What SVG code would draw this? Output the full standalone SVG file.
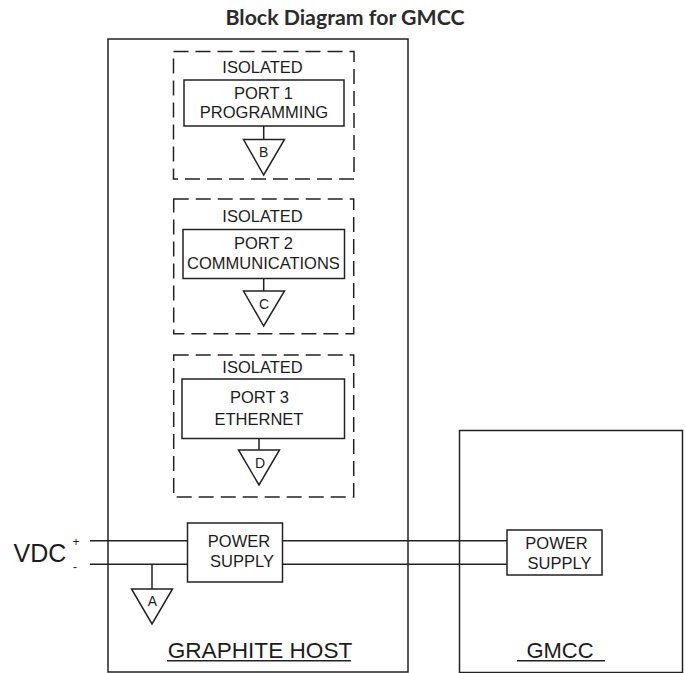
<svg xmlns="http://www.w3.org/2000/svg" width="686" height="673" viewBox="0 0 686 673">
<style>
.b{fill:#fff;stroke:#222;stroke-width:1.5}
.o{fill:none;stroke:#222;stroke-width:1.5}
.d{fill:none;stroke:#222;stroke-width:1.5;stroke-dasharray:15 7}
.w{fill:none;stroke:#222;stroke-width:1.5}
text{font-family:"Liberation Sans",Arial,sans-serif;fill:#1c1c1c;text-anchor:middle}
.t16{font-size:16.5px}
.t13{font-size:14px}
.t{font-family:Lato,"Open Sans",sans-serif;font-weight:700;font-size:21.300px;fill:#2b2b2b}
</style>
<rect width="686" height="673" fill="#fff"/>
<text id="title" class="t" x="345" y="25">Block Diagram for GMCC</text>
<g id="graphite-host">
<rect class="o" x="108" y="39" width="300" height="633"/>
<text x="260" y="658" style="font-size:22.600px">GRAPHITE HOST</text>
<line class="w" x1="167" y1="660.7" x2="351" y2="660.7"/>
</g>
<g id="gmcc">
<rect class="o" x="459.500" y="430.500" width="223" height="242"/>
<text x="560" y="658" style="font-size:22px">GMCC</text>
<line class="w" x1="517" y1="660.7" x2="605" y2="660.7"/>
</g>
<g id="connectors">
<path class="w" d="M90 540.700H187M90 564.300H187M283 540.700H507M283 564.300H507M152 564.300V589M263.700 126V139.500M263.700 278.500V291M259 438.500V450"/>
</g>
<g id="isolated-1">
<rect class="d" x="173.500" y="51.500" width="180.500" height="127.500"/>
<text class="t16" x="262.500" y="73">ISOLATED</text>
</g>
<g id="port-1">
<rect class="b" x="184" y="80" width="160" height="46"/>
<text class="t16" x="263.500" y="99">PORT 1</text>
<text class="t16" x="264" y="117.500">PROGRAMMING</text>
</g>
<g id="ground-b">
<path class="o" d="M243.500 139.500H284.500L263.700 175Z"/>
<text class="t13" x="263.700" y="157">B</text>
</g>
<g id="isolated-2">
<rect class="d" x="173.700" y="199" width="180" height="134.700"/>
<text class="t16" x="262.500" y="222">ISOLATED</text>
</g>
<g id="port-2">
<rect class="b" x="183" y="229.500" width="161.500" height="49"/>
<text class="t16" x="263.500" y="249">PORT 2</text>
<text class="t16" x="263.500" y="269">COMMUNICATIONS</text>
</g>
<g id="ground-c">
<path class="o" d="M243.500 291H284.500L263.700 326Z"/>
<text class="t13" x="264" y="309">C</text>
</g>
<g id="isolated-3">
<rect class="d" x="173.700" y="355" width="180" height="142"/>
<text class="t16" x="262.500" y="373">ISOLATED</text>
</g>
<g id="port-3">
<rect class="b" x="182" y="379" width="162.500" height="59.500"/>
<text class="t16" x="259.500" y="403">PORT 3</text>
<text class="t16" x="259" y="425">ETHERNET</text>
</g>
<g id="ground-d">
<path class="o" d="M238.500 450H279.500L259 485Z"/>
<text class="t13" x="260" y="468">D</text>
</g>
<g id="power-supply-host">
<rect class="b" x="187.500" y="523" width="95" height="59"/>
<text class="t16" x="239" y="547">POWER</text>
<text class="t16" x="242" y="566.500">SUPPLY</text>
</g>
<g id="ground-a">
<path class="o" d="M131.500 589H172.500L152 624Z"/>
<text class="t13" x="152.500" y="606">A</text>
</g>
<g id="power-supply-gmcc">
<rect class="b" x="507" y="530" width="95" height="45"/>
<text class="t16" x="556.500" y="549">POWER</text>
<text class="t16" x="559.500" y="569">SUPPLY</text>
</g>
<g id="vdc">
<text x="40" y="562" style="font-size:25px">VDC</text>
<text x="76" y="546" style="font-size:12px">+</text>
<text x="75" y="571" style="font-size:12px">-</text>
</g>
</svg>
